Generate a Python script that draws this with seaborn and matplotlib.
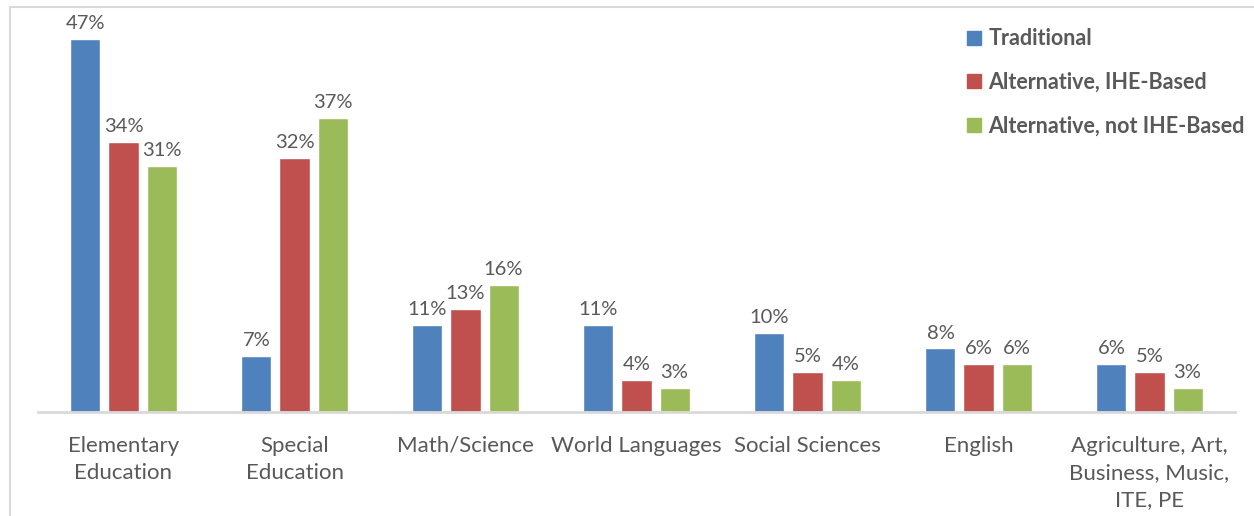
import matplotlib
matplotlib.use("Agg")
import matplotlib.pyplot as plt
from matplotlib.patches import Rectangle
from matplotlib.lines import Line2D
import seaborn as sns
import pandas as pd

# Share of completers by subject area, per preparation pathway
categories = [
    "Elementary\nEducation",
    "Special\nEducation",
    "Math/Science",
    "World Languages",
    "Social Sciences",
    "English",
    "Agriculture, Art,\nBusiness, Music,\nITE, PE",
]
pathways = ["Traditional", "Alternative, IHE-Based", "Alternative, not IHE-Based"]
traditional = [47, 7, 11, 11, 10, 8, 6]
alt_ihe = [34, 32, 13, 4, 5, 6, 5]
alt_not_ihe = [31, 37, 16, 3, 4, 6, 3]
colors = ["#4F81BD", "#C0504D", "#9BBB59"]

rows = []
for series, name in zip([traditional, alt_ihe, alt_not_ihe], pathways):
    for cat, val in zip(categories, series):
        rows.append({"Subject": cat, "Pathway": name, "Share": val})
df = pd.DataFrame(rows)

sns.set_theme(style="white")
plt.rcParams["font.family"] = ["Lato", "DejaVu Sans"]
text_color = "#595959"

fig = plt.figure(figsize=(12.54, 5.16), dpi=100)
W, H = 1254, 516

# chart-area frame
fig.add_artist(Rectangle((10 / W, -0.1), 1.2, (516 - 7) / H + 0.1,
                         transform=fig.transFigure, fill=False,
                         edgecolor="#D9D9D9", linewidth=1.5))

ax = fig.add_axes([38 / W, (516 - 412) / H, (1235 - 38) / W, (412 - 15) / H])
sns.barplot(data=df, x="Subject", y="Share", hue="Pathway", order=categories,
            hue_order=pathways, palette=colors, width=0.667, gap=0.21,
            saturation=1, legend=False, ax=ax)

ax.set_ylim(0, 50)
ax.set_xlim(-0.5, len(categories) - 0.5)
ax.set_xlabel("")
ax.set_ylabel("")
ax.set_yticks([])
for side in ["top", "right", "left"]:
    ax.spines[side].set_visible(False)
ax.spines["bottom"].set_color("#D9D9D9")
ax.spines["bottom"].set_linewidth(2)
ax.tick_params(axis="x", length=0, pad=17, labelsize=16, labelcolor=text_color)
for lbl in ax.get_xticklabels():
    lbl.set_linespacing(1.45)

for container in ax.containers:
    ax.bar_label(container, labels=[f"{v:.0f}%" for v in container.datavalues],
                 padding=5, fontsize=14.5, color=text_color)

handles = [Line2D([0], [0], marker="s", linestyle="none", markersize=10,
                  markerfacecolor=c, markeredgecolor=c) for c in colors]
leg = ax.legend(handles, pathways, loc="upper left",
                bbox_to_anchor=(944 / W, 1 - 9 / H), bbox_transform=fig.transFigure,
                frameon=False, prop={"size": 15.5, "weight": "bold"},
                labelspacing=1.05, handletextpad=0.15, handlelength=1.0)
for t in leg.get_texts():
    t.set_color(text_color)

fig.savefig("out.png", dpi=100)
